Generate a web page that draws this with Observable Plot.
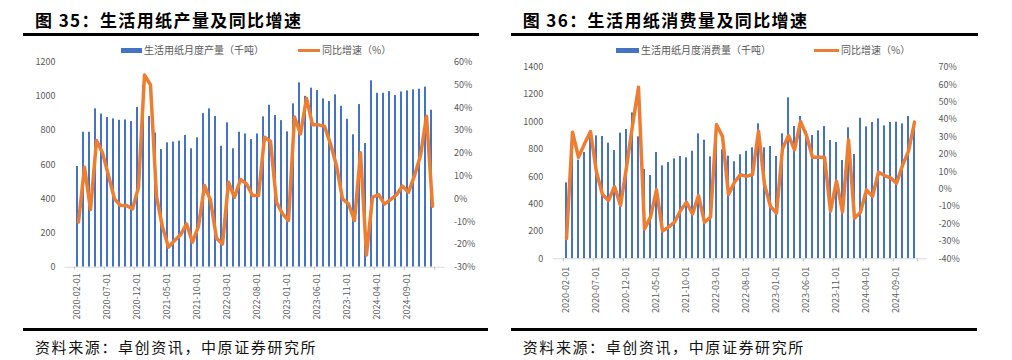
<!DOCTYPE html>
<html><head><meta charset="utf-8">
<script src="https://cdn.jsdelivr.net/npm/d3@7"></script>
<script src="https://cdn.jsdelivr.net/npm/@observablehq/plot@0.6"></script>
<style>
body{margin:0;background:#fff;}
#page{position:relative;width:1012px;height:360px;overflow:hidden;font-family:"Noto Sans CJK SC",sans-serif;background:#fff;}
.abs{position:absolute;}
.title{font-size:17px;font-weight:700;letter-spacing:1.4px;line-height:20px;color:#000;white-space:nowrap;}
.rule{background:#000;}
.leg{font-size:10px;color:#595959;line-height:12px;white-space:nowrap;}
.src{font-size:15px;letter-spacing:1.6px;line-height:18px;color:#111;white-space:nowrap;}
</style></head><body><div id="page"></div>
<script>
// ---------- data ----------
const months1 = d3.utcMonth.range(new Date(Date.UTC(2020,1,1)), new Date(Date.UTC(2025,1,1))).map(d3.utcFormat("%Y-%m-%d"));
const months2 = d3.utcMonth.range(new Date(Date.UTC(2020,1,1)), new Date(Date.UTC(2025,0,1))).map(d3.utcFormat("%Y-%m-%d"));

// 图35 生活用纸月度产量（千吨）
const production = [590,790,790,927,896,876,868,860,862,853,935,1066,882,786,689,728,732,738,771,693,
  757,899,927,882,708,845,693,790,780,747,780,880,948,888,858,792,956,1079,1000,1048,
  1034,985,970,1009,942,866,775,952,724,1091,1018,1018,1028,1005,1026,1032,1038,1042,1054,919];
// 图35 同比增速（%）
const productionYoy = [-10.2,13.9,-4.7,25.6,20.2,10.2,0,-2.9,-2.9,-4.4,5.1,54.4,50,1,-12.4,-21.2,-18.3,-15.8,-11,-19,
  -12,5.9,-0.7,-17.3,-19.8,7.3,0.7,8.5,6.6,1.5,1.5,27.1,25.2,-1.5,-6.6,-9.5,35.9,28.5,44.2,32.5,
  32.5,31.9,24.1,14.6,0,-2.2,-9.5,20.2,-24.6,0.7,1.9,-2.3,-0.3,1.8,5.6,2.9,10.2,19,36.3,-3.2];

// 图36 生活用纸月度消费量（千吨）
const consumption = [555,845,721,777,895,898,894,845,791,918,945,1066,891,653,609,777,679,704,730,747,
  738,786,913,867,745,899,796,750,709,760,786,811,986,811,821,747,913,1176,967,1040,
  930,901,935,967,864,850,718,957,762,1027,964,996,1023,971,996,998,986,1040,1005];
// 图36 同比增速（%）
const consumptionYoy = [-28.5,32.7,18.3,26,33.1,9.7,-3.1,-6.5,1.5,-9.4,12.6,36.5,58.5,-22.8,-16.1,-0.4,-24.1,-21.8,-19,-12.3,
  -7.5,-14.2,-3.7,-19,-16.1,37.1,30.2,-3.1,4,8.3,7.3,8.4,33.3,2.7,-10,-13.8,23.1,30.8,22.6,38.8,
  30.8,18.3,18.3,18.3,-12.6,4.6,-13.2,28.3,-16.7,-13.2,-0.4,-4.2,9.7,7.8,6.5,3.4,13.6,21.8,38.4];

const leftTicks1 = [0,200,400,600,800,1000,1200];
const rightTicks1 = [-30,-20,-10,0,10,20,30,40,50,60];
const leftTicks2 = [0,200,400,600,800,1000,1200,1400];
const rightTicks2 = [-40,-30,-20,-10,0,10,20,30,40,50,60,70];

const BLUE = "#4472C4", ORANGE = "#ED7D31";

const page = document.getElementById("page");
function el(cls, css, text){
  const d = document.createElement("div");
  d.className = "abs " + cls;
  Object.assign(d.style, css);
  if (text != null) d.textContent = text;
  page.appendChild(d);
  return d;
}

function makeChart(o){
  const W = 500, H = 280;
  const n = o.cats.length;
  const m = o.margins;
  const step = (W - m.left - m.right) / n;
  const data = o.cats.map((c,i)=>({date:c, value:o.bars[i], yoy:o.yoy[i]}));
  const labelCats = o.cats.filter((d,i)=>i%5===0);
  const common = {width:W, height:H, marginLeft:m.left, marginRight:m.right, marginTop:m.top, marginBottom:m.bottom};
  const style = {fontFamily:'"Noto Sans CJK SC", sans-serif', fontSize:"9px", color:"#595959", background:"transparent", overflow:"visible"};

  const barPlot = Plot.plot({
    ...common, style,
    x:{type:"band", domain:o.cats, paddingInner:0.65, paddingOuter:0.325, label:null},
    y:{domain:[0, o.yMax], label:null},
    marks:[
      Plot.barY(data, {x:"date", y:"value", fill:BLUE}),
      Plot.ruleY([0], {stroke:"#d9d9d9", strokeWidth:1}),
      Plot.axisY(o.leftTicks, {anchor:"left", tickSize:0, tickPadding:o.leftPad, tickFormat:d=>String(d), label:null}),
      Plot.axisX(labelCats, {anchor:"bottom", tickSize:0, tickPadding:o.labelPad, tickRotate:-90, label:null}),
      Plot.axisX(labelCats, {anchor:"bottom", tickSize:3, tickFormat:()=>"", dx:-step/2, stroke:"#bfbfbf", label:null}),
      Plot.axisX([o.cats[n-1]], {anchor:"bottom", tickSize:3, tickFormat:()=>"", dx:step/2, stroke:"#bfbfbf", label:null})
    ]
  });
  const linePlot = Plot.plot({
    ...common, style,
    x:{type:"point", domain:o.cats, padding:0.5, axis:null, label:null},
    y:{domain:o.pctDomain, label:null},
    marks:[
      Plot.lineY(data, {x:"date", y:"yoy", stroke:ORANGE, strokeWidth:3.5, strokeLinejoin:"round", strokeLinecap:"round"}),
      Plot.axisY(o.rightTicks, {anchor:"right", tickSize:0, tickPadding:o.rightPad, tickFormat:d=>d+"%", label:null})
    ]
  });
  for (const p of [barPlot, linePlot]){
    p.style.position = "absolute";
    p.style.left = o.x + "px";
    p.style.top = o.y + "px";
    p.style.maxWidth = "none";
    page.appendChild(p);
  }
}

// ---------- panel 1 ----------
el("title", {left:"35px", top:"10px"}, "图 35：生活用纸产量及同比增速");
el("rule", {left:"22.7px", top:"33.2px", width:"456.6px", height:"2.6px"});
el("", {left:"120.7px", top:"48.2px", width:"21px", height:"4.4px", background:BLUE});
el("leg", {left:"144px", top:"44.3px"}, "生活用纸月度产量（千吨）");
el("", {left:"297.7px", top:"49px", width:"22.3px", height:"3px", background:ORANGE});
el("leg", {left:"322px", top:"44.3px"}, "同比增速（%）");
el("rule", {left:"22.7px", top:"328.3px", width:"465.6px", height:"2.7px"});
el("src", {left:"35px", top:"338px"}, "资料来源：卓创资讯，中原证券研究所");

makeChart({
  x:0, y:50, cats:months1, bars:production, yoy:productionYoy,
  yMax:1200, leftTicks:leftTicks1, pctDomain:[-30,60], rightTicks:rightTicks1,
  margins:{left:64.5, right:55.5, top:11.7, bottom:63.3},
  leftPad:9.5, rightPad:9, labelPad:6
});

// ---------- panel 2 ----------
el("title", {left:"522.7px", top:"10px"}, "图 36：生活用纸消费量及同比增速");
el("rule", {left:"511px", top:"33.2px", width:"466.7px", height:"2.6px"});
el("", {left:"616px", top:"48.2px", width:"22.7px", height:"4.4px", background:BLUE});
el("leg", {left:"641px", top:"44.3px"}, "生活用纸月度消费量（千吨）");
el("", {left:"814px", top:"49px", width:"24.7px", height:"3px", background:ORANGE});
el("leg", {left:"841px", top:"44.3px"}, "同比增速（%）");
el("rule", {left:"511px", top:"328.3px", width:"466px", height:"2.7px"});
el("src", {left:"522.7px", top:"338px"}, "资料来源：卓创资讯，中原证券研究所");

makeChart({
  x:506, y:50, cats:months2, bars:consumption, yoy:consumptionYoy,
  yMax:1400, leftTicks:leftTicks2, pctDomain:[-40,70], rightTicks:rightTicks2,
  margins:{left:46.8, right:79.5, top:16.7, bottom:71.7},
  leftPad:10, rightPad:11.5, labelPad:8
});
</script></body></html>
